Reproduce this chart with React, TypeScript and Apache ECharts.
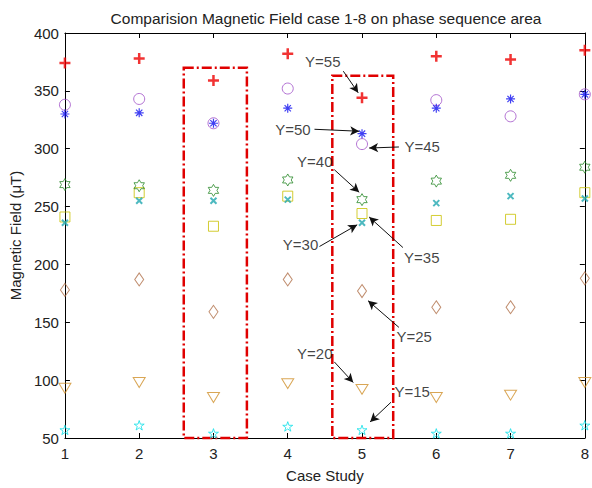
import React, { useEffect, useRef } from "react";
import * as echarts from "echarts";

const cases = [1, 2, 3, 4, 5, 6, 7, 8];
const y55 = [374, 378, 359, 382, 344, 380, 377, 385];
const y50 = [330, 331, 322, 335, 313, 335, 343, 347];
const y45 = [338, 343, 322, 352, 304, 342, 328, 347];
const y40 = [269, 268, 264, 273, 256, 272, 277, 284];
const y35 = [241, 262, 233, 259, 244, 238, 239, 262];
const y30 = [236, 255, 255, 256, 236, 253, 259, 257];
const y25 = [178, 187, 159, 187, 177, 163, 163, 188];
const y20 = [93, 98, 85, 97, 92, 85, 87, 98];
const y15 = [57, 61, 54, 60, 57, 54, 54, 61];

const annoText = ["Y=55", "Y=50", "Y=45", "Y=40", "Y=30", "Y=35", "Y=25", "Y=20", "Y=15"];
const annoTextPos = [
  [4.226, 375.6], [3.824, 317], [5.564, 301.5], [4.119, 289.3], [3.927, 216.9],
  [5.56, 206.1], [5.457, 137.4], [4.119, 123.2], [5.43, 90.5],
];
const arrowFrom = [
  [4.748, 367.0], [4.36, 316.8], [5.497, 301.5], [4.627, 281.9], [4.427, 215.5],
  [5.551, 214.6], [5.497, 145.6], [4.627, 115.8], [5.39, 80.9],
];
const arrowTo = [
  [4.949, 348.3], [4.962, 315.1], [5.096, 300.6], [4.962, 262.3], [4.935, 234.2],
  [5.096, 241.0], [5.082, 168.6], [4.882, 98.0], [5.109, 63.9],
];
const boxes = [
  [[2.6, 370], [3.45, 50]],
  [[4.6, 363], [5.42, 50]],
];

const FONT = "Liberation Sans, Arial, sans-serif";
const FS = 15;

const hexagram =
  "path://M10,0L12.89,5L18.66,5L15.77,10L18.66,15L12.89,15L10,20L7.11,15L1.34,15L4.23,10L1.34,5L7.11,5Z";
const pentagram =
  "path://M10,0L12.25,6.91L19.51,6.91L13.63,11.18L15.88,18.09L10,13.82L4.12,18.09L6.37,11.18L0.49,6.91L7.75,6.91Z";

function mk(name: string, vals: number[], symbol: string, size: any, color: string, bw: number) {
  return {
    name,
    type: "scatter",
    data: cases.map((c, i) => [c, vals[i]]),
    symbol,
    symbolSize: size,
    symbolKeepAspect: true,
    itemStyle: { color: "rgba(0,0,0,0)", borderColor: color, borderWidth: bw },
    silent: true,
    clip: false,
    z: 3,
  };
}

export default function App() {
  const ref = useRef<HTMLDivElement>(null);
  useEffect(() => {
    if (!ref.current) return;
    const chart = echarts.init(ref.current, null, { renderer: "svg" });
    const axisCommon = {
      axisLine: { show: true, lineStyle: { color: "#000", width: 1 } },
      axisTick: { show: true, inside: true, length: 5, lineStyle: { color: "#000" } },
      splitLine: { show: false },
    };
    chart.setOption({
      animation: false,
      backgroundColor: "#fff",
      title: {
        text: "Comparision Magnetic Field case 1-8 on phase sequence area",
        left: 321,
        textAlign: "center",
        top: 5,
        textStyle: { fontFamily: FONT, fontSize: 15.5, fontWeight: "normal", color: "#222" },
      },
      grid: { left: 62, right: 7, top: 33, bottom: 44 },
      xAxis: [
        {
          type: "value",
          min: 1,
          max: 8,
          interval: 1,
          position: "bottom",
          name: "Case Study",
          nameLocation: "middle",
          nameGap: 30,
          nameTextStyle: { fontFamily: FONT, fontSize: FS, color: "#222" },
          axisLabel: { fontFamily: FONT, fontSize: FS, color: "#222", margin: 8 },
          ...axisCommon,
        },
        {
          type: "value",
          min: 1,
          max: 8,
          interval: 1,
          position: "top",
          axisLabel: { show: false },
          ...axisCommon,
        },
      ],
      yAxis: [
        {
          type: "value",
          min: 50,
          max: 400,
          interval: 50,
          position: "left",
          name: "Magnetic Field (μT)",
          nameLocation: "middle",
          nameGap: 37,
          nameTextStyle: { fontFamily: FONT, fontSize: FS, color: "#222" },
          axisLabel: { fontFamily: FONT, fontSize: FS, color: "#222", margin: 6 },
          ...axisCommon,
        },
        {
          type: "value",
          min: 50,
          max: 400,
          interval: 50,
          position: "right",
          axisLabel: { show: false },
          ...axisCommon,
        },
      ],
      series: [
        mk("Y=25", y25, "diamond", [9, 13], "#b0704a", 1),
        mk("Y=20", y20, "path://M0,0L10,0L5,9Z", [12, 11], "#d0902a", 1),
        mk("Y=15", y15, pentagram, 10, "#10e0e8", 1),
        mk("Y=35", y35, "rect", 10, "#c8c000", 1),
        mk("Y=30", y30, "path://M0,0L10,10M0,10L10,0", 6, "#20a8b0", 2),
        mk("Y=40", y40, hexagram, 12, "#2a8a2a", 1),
        mk("Y=45", y45, "circle", 11, "#a050c8", 1),
        mk("Y=50", y50, "path://M5,0L5,10M0,5L10,5M1.5,1.5L8.5,8.5M1.5,8.5L8.5,1.5", 9, "#1010f0", 1.2),
        mk("Y=55", y55, "path://M5,0L5,10M0,5L10,5", 11, "#ee0000", 2.5),
        {
          name: "boxes",
          type: "line",
          data: [],
          silent: true,
          markArea: {
            silent: true,
            itemStyle: {
              color: "rgba(0,0,0,0)",
              borderColor: "#e00000",
              borderWidth: 2.5,
              borderType: [10, 3, 2, 3],
            },
            data: boxes.map((b) => [{ coord: b[0] }, { coord: b[1] }]),
          },
          markLine: {
            silent: true,
            symbol: ["none", "arrow"],
            symbolSize: [7, 9],
            label: { show: false },
            lineStyle: { color: "#111", width: 1, type: "solid" },
            data: arrowFrom.map((f, i) => [{ coord: f }, { coord: arrowTo[i] }]),
          },
        },
        {
          name: "labels",
          type: "scatter",
          silent: true,
          symbolSize: 1,
          itemStyle: { color: "rgba(0,0,0,0)" },
          data: annoText.map((t, i) => ({ name: t, value: annoTextPos[i] })),
          label: {
            show: true,
            position: "right",
            distance: 0,
            formatter: (p: any) => p.name,
            fontFamily: FONT,
            fontSize: FS,
            color: "#111",
          },
          z: 5,
        },
      ],
    });
    return () => chart.dispose();
  }, []);
  return <div ref={ref} style={{ width: 592, height: 488, position: "absolute", left: 0, top: 0 }} />;
}
